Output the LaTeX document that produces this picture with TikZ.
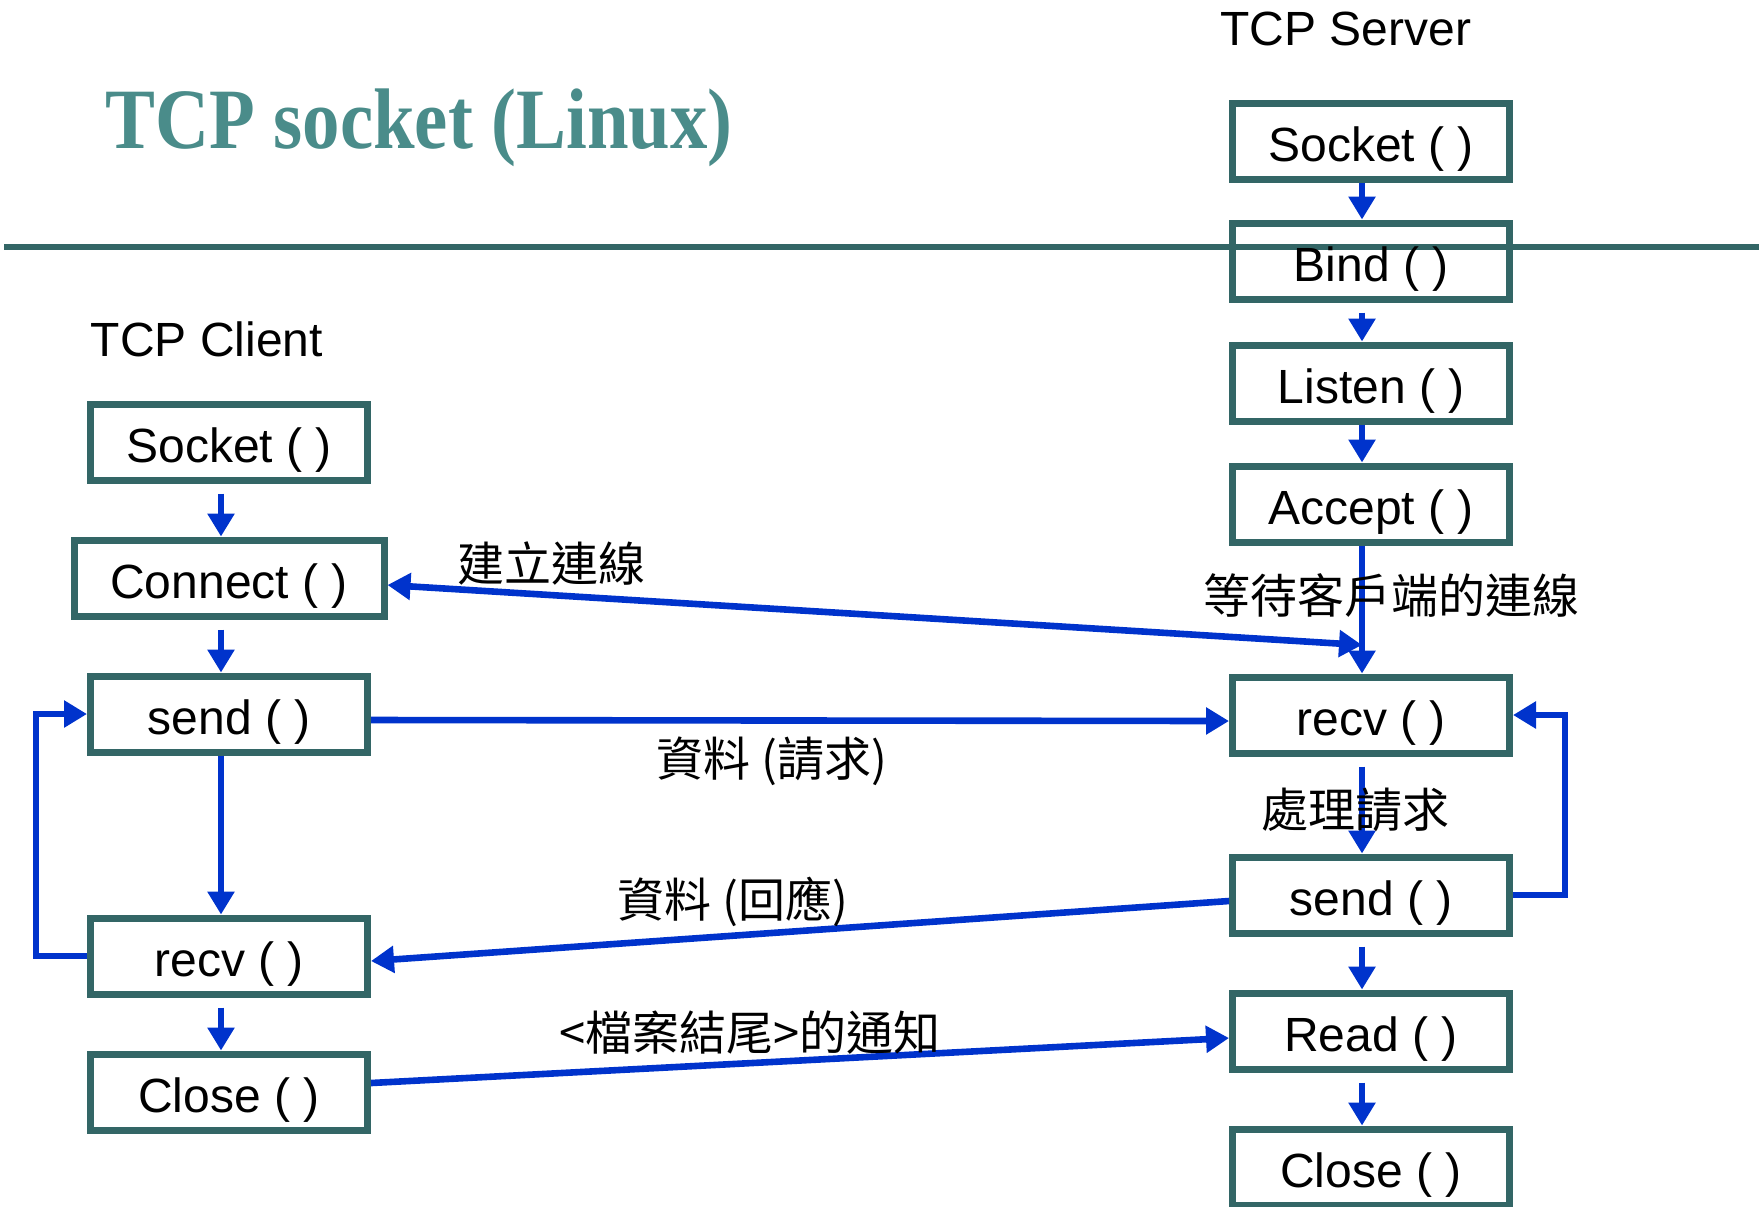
\documentclass[tikz,border=0pt]{standalone}
\usepackage{fontspec}
\setmainfont{Liberation Sans}
\newfontfamily\cjk{Noto Sans CJK TC}
\newfontfamily\titlefont{Liberation Serif}
\usetikzlibrary{arrows.meta,positioning}
\definecolor{boxline}{HTML}{336666}
\definecolor{titleteal}{HTML}{4A8C8A}
\definecolor{flowblue}{HTML}{0033CC}

\begin{document}
\begin{tikzpicture}[x=0.5pt, y=-0.5pt,
    every node/.style={font=\fontsize{24pt}{28pt}\selectfont},
    func/.style={rectangle, draw=boxline, line width=3.5pt, minimum width=138.5pt, minimum height=38pt,
        inner sep=0pt, text height=26pt, text depth=6pt},
    flow/.style={draw=flowblue, line width=3.3pt, ->},
    >={Triangle[width=13pt,length=11.5pt]},
    note/.style={font=\cjk\fontsize{23.5pt}{28pt}\selectfont}]
    \useasboundingbox (0,0) rectangle (1759,1206);

    \node (title) [anchor=base, text=titleteal, font=\titlefont\bfseries\fontsize{43pt}{50pt}\selectfont] at (419,148) {\scalebox{0.87}[1]{TCP socket (Linux)}};
    \draw[boxline, line width=3pt] (4,247) -- (1759,247);

    \node (tcpserver) [anchor=base] at (1346,45) {TCP Server};
    \node (tcpclient) [anchor=base] at (207,356) {TCP Client};

    % server side
    \node (ssocket) [func] at (1371,141) {Socket ( )};
    \node (bind) [func] at (1371,261) {Bind ( )};
    \node (listen) [func] at (1371,383) {Listen ( )};
    \node (accept) [func] at (1371,504) {Accept ( )};
    \node (srecv) [func] at (1371,715) {recv ( )};
    \node (ssend) [func] at (1371,895) {send ( )};
    \node (sread) [func] at (1371,1031) {Read ( )};
    \node (sclose) [func] at (1371,1167) {Close ( )};
    \coordinate (join) at (1362,645);

    % client side
    \node (csocket) [func] at (229,442) {Socket ( )};
    \node (connect) [func, minimum width=155pt] at (229,578) {Connect ( )};
    \node (csend) [func] at (229,714) {send ( )};
    \node (crecv) [func] at (229,956) {recv ( )};
    \node (cclose) [func] at (229,1092) {Close ( )};

    \draw[flow] ([xshift=-4.5pt]ssocket.south) -- ([xshift=-4.5pt]bind.north);
    \draw[flow, shorten <=5pt] ([xshift=-4.5pt]bind.south) -- ([xshift=-4.5pt]listen.north);
    \draw[flow] ([xshift=-4.5pt]listen.south) -- ([xshift=-4.5pt]accept.north);
    \draw[flow] ([xshift=-4.5pt]accept.south) -- ([xshift=-4.5pt]srecv.north);
    \draw[flow, shorten <=5pt] ([xshift=-4.5pt]srecv.south) -- ([xshift=-4.5pt]ssend.north);
    \draw[flow, shorten <=5pt] ([xshift=-4.5pt]ssend.south) -- ([xshift=-4.5pt]sread.north);
    \draw[flow, shorten <=5pt] ([xshift=-4.5pt]sread.south) -- ([xshift=-4.5pt]sclose.north);
    \draw[flow] (ssend.east) -- ++(26pt,0) |- (srecv.east);

    \draw[flow, shorten <=5pt] ([xshift=-4pt]csocket.south) -- ([xshift=-4pt]connect.north);
    \draw[flow, shorten <=5pt] ([xshift=-4pt]connect.south) -- ([xshift=-4pt]csend.north);
    \draw[flow] ([xshift=-4pt]csend.south) -- ([xshift=-4pt]crecv.north);
    \draw[flow, shorten <=5pt] ([xshift=-4pt]crecv.south) -- ([xshift=-4pt]cclose.north);
    \draw[flow] (crecv.west) -- ++(-25.5pt,0) |- (csend.west);

    \draw[flow, <->] ([yshift=-3.5pt]connect.east) -- (join);
    \draw[flow] ([yshift=-3pt]csend.east) -- ([yshift=-3pt]srecv.west);
    \draw[flow] ([yshift=-3pt]ssend.west) -- ([yshift=-2.5pt]crecv.east);
    \draw[flow] ([yshift=4.5pt]cclose.east) -- ([yshift=-3.5pt]sread.west);

    \node (lconnect) [note] at (551,564) {建立連線};
    \node (lwait) [note] at (1391,595) {等待客戶端的連線};
    \node (lrequest) [note] at (772,761) {資料 (請求)};
    \node (lprocess) [note] at (1355,810) {處理請求};
    \node (lreply) [note] at (733,902) {資料 (回應)};
    \node (leof) [note] at (750,1033) {<檔案結尾>的通知};
\end{tikzpicture}
\end{document}
